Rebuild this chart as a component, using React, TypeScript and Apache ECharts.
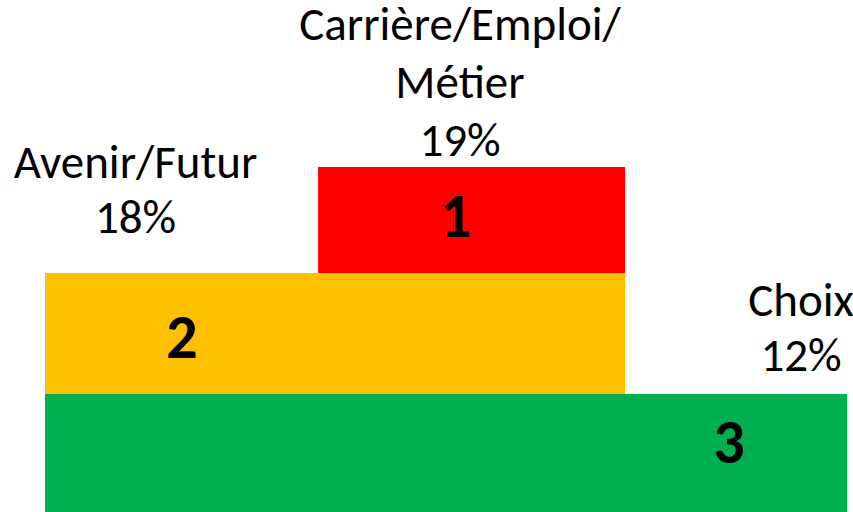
import React, { useEffect, useRef } from "react";
import * as echarts from "echarts";

// Podium content
const ranks = [1, 2, 3];
const themes = ["Carrière/Emploi/\nMétier", "Avenir/Futur", "Choix"];
const shares = [19, 18, 12];

// Podium step geometry (axis units)
const stepX0 = [318, 45, 45];
const stepX1 = [625, 625, 847];
const stepY0 = [239, 118, 0];
const stepY1 = [345, 239, 118];

// Anchor points for the rank numbers and the theme labels (axis units)
const rankAnchorX = [456, 182, 729];
const rankAnchorY = [296.5, 175, 70];
const labelAnchorX = [460, 135.5, 801];
const labelAnchorY = [430, 322.5, 184.5];
const labelLineGap = [58, 55, 55];

const stepColors = ["#FF0000", "#FFC000", "#00B050"];
const FONT = 'Calibri, Carlito, "Liberation Sans", Arial, sans-serif';

export default function App() {
  const ref = useRef<HTMLDivElement>(null);

  useEffect(() => {
    document.body.style.margin = "0";
    if (!ref.current) return;
    const chart = echarts.init(ref.current, undefined, { renderer: "svg" });

    const data = ranks.map((_, i) => [
      stepX0[i],
      stepX1[i],
      stepY0[i],
      stepY1[i],
      rankAnchorX[i],
      rankAnchorY[i],
      labelAnchorX[i],
      labelAnchorY[i],
      i,
    ]);

    chart.setOption({
      animation: false,
      backgroundColor: "#ffffff",
      grid: { left: 0, right: 0, top: 0, bottom: 0 },
      xAxis: { type: "value", min: 0, max: 853, show: false },
      yAxis: { type: "value", min: 0, max: 512, show: false },
      series: [
        {
          type: "custom",
          clip: false,
          data,
          renderItem: (params: any, api: any) => {
            const i = api.value(8);
            const p0 = api.coord([api.value(0), api.value(3)]);
            const p1 = api.coord([api.value(1), api.value(2)]);
            const rp = api.coord([api.value(4), api.value(5)]);
            const lp = api.coord([api.value(6), api.value(7)]);
            const lines = (themes[i] + "\n" + shares[i] + "%").split("\n");
            const n = lines.length;
            const gap = labelLineGap[i];
            const labelChildren = lines.map((line, k) => ({
              type: "text",
              x: lp[0],
              y: lp[1] + (k - (n - 1) / 2) * gap,
              style: {
                text: line,
                fontSize: 47,
                lineHeight: 46,
                fontFamily: FONT,
                fill: "#000000",
                align: "center",
                verticalAlign: "middle",
              },
            }));
            return {
              type: "group",
              children: [
                {
                  type: "rect",
                  shape: {
                    x: p0[0],
                    y: p0[1],
                    width: p1[0] - p0[0],
                    height: p1[1] - p0[1],
                  },
                  style: { fill: stepColors[i] },
                },
                {
                  type: "text",
                  x: rp[0],
                  y: rp[1],
                  style: {
                    text: String(ranks[i]),
                    fontSize: 62,
                    lineHeight: 60,
                    fontWeight: "bold",
                    fontFamily: FONT,
                    fill: "#000000",
                    align: "center",
                    verticalAlign: "middle",
                  },
                },
                ...labelChildren,
              ],
            };
          },
        },
      ],
    });

    return () => {
      chart.dispose();
    };
  }, []);

  return <div ref={ref} style={{ width: 853, height: 512 }} />;
}
